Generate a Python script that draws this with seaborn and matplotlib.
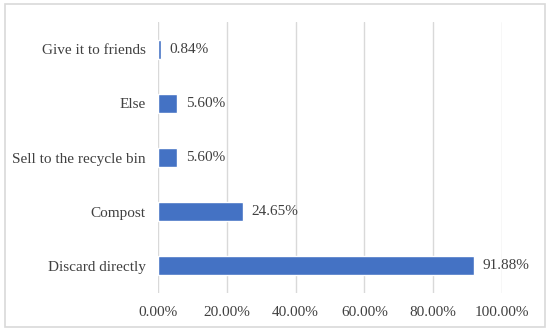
import numpy as np
import pandas as pd
import seaborn as sns
import matplotlib.pyplot as plt
from matplotlib.patches import Rectangle

# datos
categorias = ['Give it to friends', 'Else', 'Sell to the recycle bin', 'Compost', 'Discard directly']
porcentajes = [0.84, 5.60, 5.60, 24.65, 91.88]
ticks_x = [0, 20, 40, 60, 80, 100]

df = pd.DataFrame({'categoria': categorias, 'valor': porcentajes})

sns.set_style('white')
plt.rcParams['font.family'] = ['Liberation Serif', 'DejaVu Serif']
texto = '#404040'

fig = plt.figure(figsize=(5.5, 3.35), dpi=100)
W, H = 550, 335
# borde del grafico
fig.patches.append(Rectangle((5 / W, (H - 327) / H), 540 / W, 323 / H,
                             transform=fig.transFigure, fill=False,
                             edgecolor='#D9D9D9', linewidth=1.2))

ax = fig.add_axes([158 / W, (H - 293) / H, (502 - 158) / W, (293 - 22) / H])
sns.barplot(data=df, x='valor', y='categoria', order=categorias, orient='h',
            color='#4472C4', saturation=1, width=0.35, ax=ax, zorder=3)

ax.set_xlim(0, 100)
ax.set_ylim(4.5, -0.5)
ax.set_xticks(ticks_x)
ax.set_xticklabels([f'{t:.2f}%' for t in ticks_x])
ax.grid(axis='x', color='#D9D9D9', linewidth=1.0, zorder=0)
ax.grid(axis='y', visible=False)
for s in ax.spines.values():
    s.set_visible(False)
ax.set_xlabel('')
ax.set_ylabel('')
ax.tick_params(axis='y', length=0, pad=9, labelsize=11, labelcolor=texto)
ax.tick_params(axis='x', length=0, pad=9, labelsize=11, labelcolor=texto)

ax.bar_label(ax.containers[0], labels=[f'{v:.2f}%' for v in porcentajes],
             padding=6, fontsize=11, color=texto)

fig.savefig('out.png', dpi=100)
